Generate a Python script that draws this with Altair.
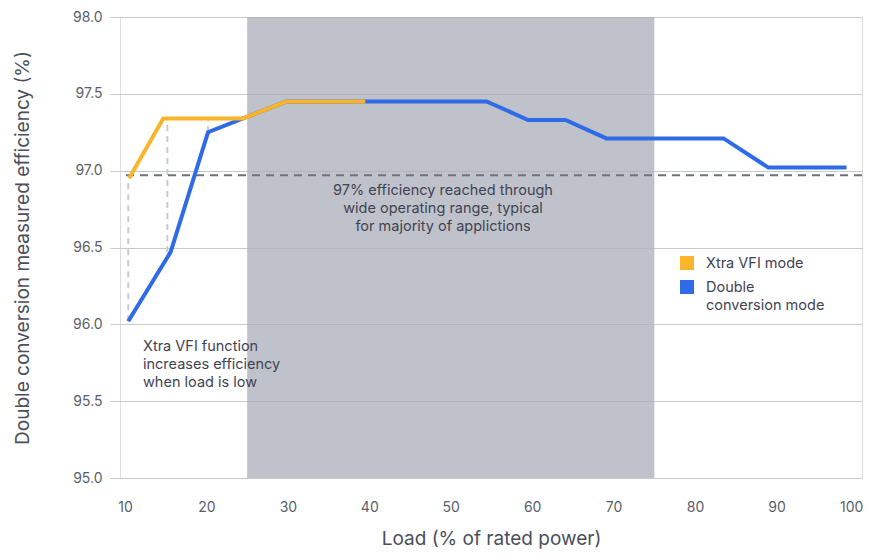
import altair as alt
import pandas as pd

# ---- data ----
orange_x = [10.5, 14.7, 20.0, 24.5, 29.8, 39.5]
orange_y = [96.95, 97.34, 97.34, 97.34, 97.45, 97.45]

blue_x = [10.4, 15.6, 20.2, 24.5, 29.8, 39.5, 54.4, 59.5, 64.1, 69.1, 83.5, 89.0, 98.6]
blue_y = [96.02, 96.47, 97.25, 97.34, 97.45, 97.45, 97.45, 97.33, 97.33, 97.21, 97.21, 97.02, 97.02]

guide_x = [10.4, 15.2, 20.2]
guide_lo = [96.02, 96.47, 97.25]
guide_hi = [96.95, 97.34, 97.34]

band_start = [25]
band_end = [75]
threshold = [96.97]

x_ticks = [10, 20, 30, 40, 50, 60, 70, 80, 90, 100]
y_ticks = [95.0, 95.5, 96.0, 96.5, 97.0, 97.5, 98.0]

legend_labels = ["Xtra VFI mode", "Double\nconversion mode"]
legend_colors = ["#fbb52b", "#2f6be6"]

note_band = "97% efficiency reached through\nwide operating range, typical\nfor majority of applictions"
note_low = "Xtra VFI function\nincreases efficiency\nwhen load is low"

FONT = "Inter"
TXT = "#3f4453"
GRID = "#c8c9ce"
ORANGE = legend_colors[0]
BLUE = legend_colors[1]

W, H = 742, 461

xs = alt.Scale(domain=[9.386, 100.5], nice=False, zero=False)
ys = alt.Scale(domain=[95, 98], nice=False, zero=False)

xaxis = alt.Axis(title="Load (% of rated power)", values=x_ticks, tickSize=0, domain=False,
                 grid=False, labelPadding=22, labelFontSize=14, labelColor="#5a5f6b",
                 labelAlign=alt.expr("datum.value == 100 ? 'right' : 'center'"),
                 labelOffset=alt.expr("datum.value == 100 ? 5 : 0"),
                 labelFont=FONT, titleFont=FONT, titleFontSize=19, titleFontWeight="normal",
                 titleColor="#4a4f5c", titlePadding=15)
yaxis = alt.Axis(title="Double conversion measured efficiency (%)", values=y_ticks, format=".1f",
                 tickSize=10, tickColor=GRID, domain=False, grid=True, gridColor=GRID,
                 labelPadding=8, labelFontSize=14, labelColor="#5a5f6b", labelFont=FONT,
                 titleFont=FONT, titleFontSize=19, titleFontWeight="normal",
                 titleColor="#4a4f5c", titlePadding=40)

band = alt.Chart(pd.DataFrame({"x0": band_start, "x1": band_end})).mark_rect(
    color="#a9adb8", opacity=0.75
).encode(
    x=alt.X("x0:Q", scale=xs, axis=xaxis), x2="x1:Q",
    y=alt.value(0), y2=alt.value(H)
)

guides = alt.Chart(pd.DataFrame({"x": guide_x, "lo": guide_lo, "hi": guide_hi})).mark_rule(
    color="#c9cacf", strokeWidth=2, strokeDash=[6, 5]
).encode(
    x=alt.X("x:Q", scale=xs, axis=xaxis),
    y=alt.Y("lo:Q", scale=ys, axis=yaxis), y2="hi:Q"
)

thr = alt.Chart(pd.DataFrame({"y": threshold})).mark_rule(
    color="#6d717c", strokeWidth=2, strokeDash=[8, 6]
).encode(y=alt.Y("y:Q", scale=ys, axis=yaxis))

blue = alt.Chart(pd.DataFrame({"x": blue_x, "y": blue_y})).mark_line(
    color=BLUE, strokeWidth=4, strokeJoin="miter"
).encode(x=alt.X("x:Q", scale=xs, axis=xaxis), y=alt.Y("y:Q", scale=ys, axis=yaxis))

orange = alt.Chart(pd.DataFrame({"x": orange_x, "y": orange_y})).mark_line(
    color=ORANGE, strokeWidth=4, strokeJoin="miter"
).encode(x=alt.X("x:Q", scale=xs, axis=xaxis), y=alt.Y("y:Q", scale=ys, axis=yaxis))

txt1 = alt.Chart(pd.DataFrame({"t": [note_band]})).mark_text(
    font=FONT, fontSize=14.5, color=TXT, align="center", baseline="top",
    lineBreak="\n", lineHeight=18
).encode(text="t:N", x=alt.value(323), y=alt.value(167))

txt2 = alt.Chart(pd.DataFrame({"t": [note_low]})).mark_text(
    font=FONT, fontSize=14.5, color=TXT, align="left", baseline="top",
    lineBreak="\n", lineHeight=18
).encode(text="t:N", x=alt.value(23), y=alt.value(323))

leg_layers = []
leg_sq_y = [246, 270]
leg_txt_y = [240, 264]
for lab, col, sy, ty in zip(legend_labels, legend_colors, leg_sq_y, leg_txt_y):
    d = pd.DataFrame({"label": [lab]})
    leg_layers.append(
        alt.Chart(d).mark_square(size=196, color=col, opacity=1)
        .encode(x=alt.value(567), y=alt.value(sy))
    )
    leg_layers.append(
        alt.Chart(d).mark_text(font=FONT, fontSize=14.5, color=TXT, align="left",
                               baseline="top", lineBreak="\n", lineHeight=18)
        .encode(text="label:N", x=alt.value(586), y=alt.value(ty))
    )

chart = alt.layer(band, guides, thr, blue, orange, txt1, txt2, *leg_layers).properties(
    width=W, height=H,
    autosize=alt.AutoSizeParams(type="none"),
    padding={"left": 112, "top": 9, "right": 2, "bottom": 74},
).configure_view(stroke=GRID, strokeWidth=1).configure(font=FONT)

chart.save("out.html", embed_options={"renderer": "svg", "actions": False})
